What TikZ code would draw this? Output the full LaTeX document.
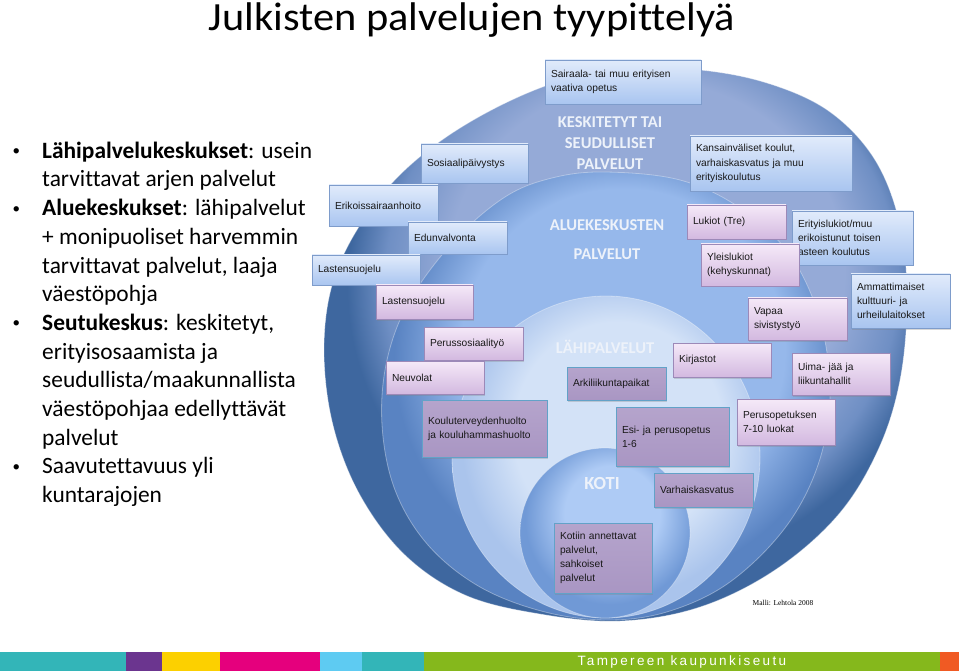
\documentclass[tikz,border=0pt]{standalone}
\usepackage{fontspec}
\setmainfont{Carlito}[Ligatures=NoCommon]
\newfontfamily\titlefont{Carlito}[Ligatures=NoCommon, FakeStretch=1.06]
\newfontfamily\arialfont{Liberation Sans}
\newfontfamily\timesfont{Liberation Serif}
\newfontfamily\barfont[LetterSpace=17.7]{Liberation Sans}
\usetikzlibrary{shadows}

% ring colours
\definecolor{keskLight}{HTML}{95AAD7}
\definecolor{keskMid}{HTML}{6F8FC4}
\definecolor{keskDark}{HTML}{3E679F}
\definecolor{alueLight}{HTML}{96B8EB}
\definecolor{alueDark}{HTML}{5983C2}
\definecolor{lahiLight}{HTML}{D3E2F7}
\definecolor{lahiDark}{HTML}{AAC4EC}
\definecolor{kotiLight}{HTML}{AECBF5}
\definecolor{kotiDark}{HTML}{7099D6}
\definecolor{ringText}{HTML}{EDF2FA}
% box colours
\definecolor{blueTop}{HTML}{E1EBFB}
\definecolor{blueBot}{HTML}{A9C5F0}
\definecolor{blueBd}{HTML}{7E9CCB}
\definecolor{pinkTop}{HTML}{F5E9F8}
\definecolor{pinkBot}{HTML}{D3B9E0}
\definecolor{pinkBd}{HTML}{9C89B8}
\definecolor{mauveTop}{HTML}{B5A4CC}
\definecolor{mauveBot}{HTML}{A996C3}
\definecolor{mauveBd}{HTML}{62A2C8}
% footer colours
\definecolor{barTeal}{HTML}{33B5B8}
\definecolor{barPurple}{HTML}{6B358F}
\definecolor{barYellow}{HTML}{FCD000}
\definecolor{barMagenta}{HTML}{E5007D}
\definecolor{barSky}{HTML}{5ECBF2}
\definecolor{barGreen}{HTML}{85B81C}
\definecolor{barOrange}{HTML}{F05A23}

\pgfdeclareradialshading{ringkesk}{\pgfpoint{4bp}{10bp}}{%
  color(0bp)=(keskLight); color(17bp)=(keskLight); color(22bp)=(keskMid);
  color(25bp)=(keskDark); color(50bp)=(keskDark)}
\pgfdeclareradialshading{ringalue}{\pgfpoint{3bp}{8bp}}{%
  color(0bp)=(alueLight); color(18bp)=(alueLight); color(25bp)=(alueDark);
  color(50bp)=(alueDark)}
\pgfdeclareradialshading{ringlahi}{\pgfpoint{3bp}{6bp}}{%
  color(0bp)=(lahiLight); color(17bp)=(lahiLight); color(25bp)=(lahiDark);
  color(50bp)=(lahiDark)}
\pgfdeclareradialshading{ringkoti}{\pgfpoint{3bp}{8bp}}{%
  color(0bp)=(kotiLight); color(14bp)=(kotiLight); color(25bp)=(kotiDark);
  color(50bp)=(kotiDark)}

\newcommand{\smallbullet}{\raisebox{2.6pt}{\fontsize{15}{15}\selectfont •}}

\tikzset{
  svcbox/.style={
    rectangle, line width=0.6pt,
    inner xsep=6pt, inner ysep=2pt,
    align=left, text=black!90,
    font=\arialfont\fontsize{10.2}{14.2}\selectfont,
    drop shadow={shadow xshift=1.2pt, shadow yshift=-1.5pt, opacity=0.3}
  },
  bluebox/.style={svcbox, draw=blueBd, top color=blueTop, bottom color=blueBot},
  pinkbox/.style={svcbox, draw=pinkBd, top color=pinkTop, bottom color=pinkBot},
  mauvebox/.style={svcbox, draw=mauveBd, top color=mauveTop, bottom color=mauveBot},
  boxdim/.style 2 args={text width=#1, minimum height=#2},
  ringlabel/.style={
    text=ringText, align=center,
    font=\fontsize{16.5}{20.7}\selectfont\bfseries
  },
  ringedge/.style={draw=white, draw opacity=0.35, line width=0.8pt}
}

\begin{document}
\begin{tikzpicture}[x=1pt, y=-1pt]
\useasboundingbox (0,0) rectangle (959,671);
\fill[white] (0,0) rectangle (959,671);

%------------------------------------------------------
% TITLE AND BULLETS
%------------------------------------------------------

\node[font=\titlefont\fontsize{40}{48}\selectfont, anchor=base] (title) at (472,31)
  {Julkisten palvelujen tyypittelyä};

\node[anchor=north west, inner sep=0pt, font=\fontsize{23.4}{28.7}\selectfont]
  (bullets) at (12.5,138) {%
  \begin{tabular}{@{}p{29.5pt}@{}l@{}}
    \smallbullet & \textbf{Lähipalvelukeskukset}: usein\\
      & tarvittavat arjen palvelut\\
    \smallbullet & \textbf{Aluekeskukset}: lähipalvelut\\
      & + monipuoliset harvemmin\\
      & tarvittavat palvelut, laaja\\
      & väestöpohja\\
    \smallbullet & \textbf{Seutukeskus}: keskitetyt,\\
      & erityisosaamista ja\\
      & seudullista/maakunnallista\\
      & väestöpohjaa edellyttävät\\
      & palvelut\\
    \smallbullet & Saavutettavuus yli\\
      & kuntarajojen
  \end{tabular}};

%------------------------------------------------------
% RINGS (outer to inner)
%------------------------------------------------------

\shade[shading=ringkesk, ringedge] plot[smooth cycle, tension=0.6] coordinates {
  (615,68) (700,70) (770,84) (830,112) (875,160) (900,225) (907,300)
  (900,380) (878,450) (838,515) (775,570) (700,607) (620,621) (540,614)
  (465,595) (405,555) (360,495) (333,425) (324,350) (333,282) (362,222)
  (405,170) (465,125) (540,88)};
\shade[shading=ringalue, ringedge] plot[smooth cycle, tension=0.6] coordinates {
  (605,172) (680,180) (740,208) (790,255) (820,320) (830,395) (818,465)
  (785,528) (730,582) (670,611) (610,620) (545,612) (480,587) (428,545)
  (395,490) (382,425) (387,360) (410,300) (455,240) (505,197) (552,178)};
\shade[shading=ringlahi, ringedge] (606,457) ellipse[x radius=154, y radius=161];
\shade[shading=ringkoti, ringedge] (605,533) circle[radius=85];

\node[ringlabel] (keskLabel) at (610,143) {KESKITETYT TAI\\SEUDULLISET\\PALVELUT};
\node[ringlabel] (alueLabel) at (607,239.5) {ALUEKESKUSTEN\\[8pt]PALVELUT};
\node[ringlabel] (lahiLabel) at (605,347) {LÄHIPALVELUT};
\node[ringlabel, font=\fontsize{18.5}{22}\selectfont\bfseries] (kotiLabel) at (602,483) {KOTI};

%------------------------------------------------------
% SERVICE BOXES
%------------------------------------------------------

% left side
\node[bluebox, boxdim={95pt}{39pt}] (sosiaali) at (474.5,163.5) {Sosiaalipäivystys};
\node[bluebox, boxdim={97pt}{41pt}] (erikois) at (383.5,205.5) {Erikoissairaanhoito};
\node[bluebox, boxdim={87pt}{32pt}] (edunv) at (457.5,238) {Edunvalvonta};
\node[bluebox, boxdim={96pt}{30pt}] (lastenB) at (366,270) {Lastensuojelu};
\node[pinkbox, boxdim={85pt}{34pt}] (lastenP) at (424.5,302) {Lastensuojelu};
\node[pinkbox, boxdim={87pt}{33pt}] (perussos) at (473.5,343.5) {Perussosiaalityö};
\node[pinkbox, boxdim={86pt}{33pt}] (neuvolat) at (435,377.5) {Neuvolat};
\node[mauvebox, boxdim={113pt}{57pt}] (koulut) at (484.5,428.5) {%
  Kouluterveydenhuolto\\
  ja kouluhammashuolto
};

% top and right side
\node[bluebox, boxdim={144pt}{44pt}] (sairaala) at (623,82) {%
  Sairaala- tai muu erityisen\\
  vaativa opetus
};
\node[bluebox, boxdim={150pt}{55pt}] (kansainv) at (771,163.5) {%
  Kansainväliset koulut,\\
  varhaiskasvatus ja muu\\
  erityiskoulutus
};
\node[pinkbox, boxdim={87pt}{34pt}] (lukiot) at (736.5,222) {Lukiot (Tre)};
\node[bluebox, boxdim={109pt}{54pt}] (erityis) at (852.5,238) {%
  Erityislukiot/muu\\
  erikoistunut toisen\\
  asteen koulutus
};
\node[pinkbox, boxdim={86pt}{42pt}] (yleis) at (750,265) {%
  Yleislukiot\\
  (kehyskunnat)
};
\node[bluebox, boxdim={87pt}{54pt}] (ammatti) at (900.5,301) {%
  Ammattimaiset\\
  kulttuuri- ja\\
  urheilulaitokset
};
\node[pinkbox, boxdim={87pt}{42pt}] (vapaa) at (797.5,319) {%
  Vapaa\\
  sivistystyö
};
\node[pinkbox, boxdim={86pt}{34pt}] (kirjastot) at (722,360) {Kirjastot};
\node[pinkbox, boxdim={86pt}{42pt}] (uima) at (841,374) {%
  Uima- jää ja\\
  liikuntahallit
};
\node[pinkbox, boxdim={86pt}{46pt}] (perusop) at (786,422) {%
  Perusopetuksen\\
  7-10 luokat
};

% centre
\node[mauvebox, boxdim={87pt}{33pt}] (arki) at (616.5,383.5) {Arkiliikuntapaikat};
\node[mauvebox, boxdim={101pt}{59pt}] (esi) at (672.5,436.5) {%
  Esi- ja perusopetus\\
  1-6
};
\node[mauvebox, boxdim={87pt}{34pt}] (varhais) at (703.5,490) {Varhaiskasvatus};
\node[mauvebox, boxdim={86pt}{70pt}] (kotiin) at (603,558) {%
  Kotiin annettavat\\
  palvelut,\\
  sahkoiset\\
  palvelut
};

\node[font=\timesfont\fontsize{7.5}{9}\selectfont] (malli) at (783,603) {Malli: Lehtola 2008};

%------------------------------------------------------
% FOOTER BAR
%------------------------------------------------------

\fill[barTeal] (0,652) rectangle (126,671);
\fill[barPurple] (126,652) rectangle (162,671);
\fill[barYellow] (162,652) rectangle (220,671);
\fill[barMagenta] (220,652) rectangle (320,671);
\fill[barSky] (320,652) rectangle (362,671);
\fill[barTeal] (362,652) rectangle (424,671);
\fill[barGreen] (424,652) rectangle (940,671);
\fill[barOrange] (940,652) rectangle (959,671);
\node[text=white, font=\barfont\fontsize{13.5}{15}\selectfont] (seutu) at (682,662)
  {Tampereen kaupunkiseutu};

\end{tikzpicture}
\end{document}
